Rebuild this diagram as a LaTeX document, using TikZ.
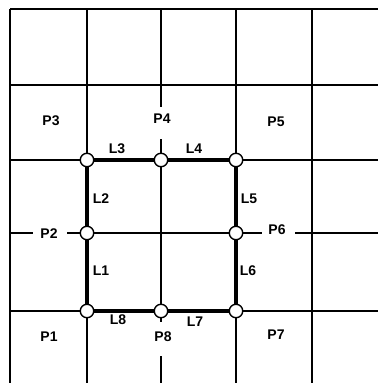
\documentclass[tikz,border=0pt]{standalone}
\usepackage{fontspec}
\setmainfont{Liberation Sans}
\pgfdeclarelayer{background}
\pgfsetlayers{background,main}
\tikzset{
  lbl/.style={inner sep=0pt, font=\fontsize{14}{14}\selectfont\bfseries},
  joint/.style={circle, draw, line width=1.4pt, fill=white, minimum size=13.5pt, inner sep=0pt},
  thin/.style={line width=1.5pt},
  heavy/.style={line width=3.2pt}
}
\begin{document}
\begin{tikzpicture}[x=1pt,y=-1pt]
\useasboundingbox (0,0) rectangle (378,383);
% joints
\node[joint] (c1) at (87,311) {};
\node[joint] (c2) at (87,233) {};
\node[joint] (c3) at (87,160) {};
\node[joint] (c4) at (161,160) {};
\node[joint] (c5) at (236,160) {};
\node[joint] (c6) at (236,233) {};
\node[joint] (c7) at (236,311) {};
\node[joint] (c8) at (161,311) {};
% labels
\node[lbl] (P3) at (51,121) {P3};
\node[lbl] (P4) at (162,119) {P4};
\node[lbl] (P5) at (276,122) {P5};
\node[lbl] (L3) at (117,149) {L3};
\node[lbl] (L4) at (194,149) {L4};
\node[lbl] (L2) at (101,199) {L2};
\node[lbl] (L5) at (249,199) {L5};
\node[lbl] (P2) at (49,234) {P2};
\node[lbl] (P6) at (277,230) {P6};
\node[lbl] (L1) at (101,271) {L1};
\node[lbl] (L6) at (248,271) {L6};
\node[lbl] (L8) at (118,320) {L8};
\node[lbl] (L7) at (195,322) {L7};
\node[lbl] (P1) at (49,337) {P1};
\node[lbl] (P8) at (163,337) {P8};
\node[lbl] (P7) at (276,335) {P7};
% free ends
\coordinate (tl) at (10,9);
\coordinate (tr) at (378,9);
\coordinate (bl) at (10,383);
\coordinate (h1l) at (10,85);   \coordinate (h1r) at (378,85);
\coordinate (h2l) at (10,160);  \coordinate (h2r) at (378,160);
\coordinate (h3l) at (10,233);  \coordinate (h3r) at (378,233);
\coordinate (h4l) at (10,311);  \coordinate (h4r) at (378,311);
\coordinate (p2w) at (33,233);  \coordinate (p2e) at (67,233);
\coordinate (p6w) at (262,233); \coordinate (p6e) at (295,233);
\coordinate (v1t) at (87,9);    \coordinate (v1b) at (87,383);
\coordinate (v2t) at (161,9);   \coordinate (v2m) at (161,107);
\coordinate (v2n) at (161,139); \coordinate (v2k) at (161,322);
\coordinate (v2s) at (161,356); \coordinate (v2b) at (161,383);
\coordinate (v3t) at (236,9);   \coordinate (v3b) at (236,383);
\coordinate (v4t) at (312,9);   \coordinate (v4b) at (312,383);
\begin{pgfonlayer}{background}
\draw[thin] (tl) -- (tr);
\draw[thin] (tl) -- (bl);
\draw[thin] (h1l) -- (h1r);
\draw[thin] (h2l) -- (h2r);
\draw[thin] (h4l) -- (h4r);
\draw[thin] (h3l) -- (p2w);
\draw[thin] (p2e) -- (c2);
\draw[thin] (c2) -- (c6);
\draw[thin] (c6) -- (p6w);
\draw[thin] (p6e) -- (h3r);
\draw[thin] (v1t) -- (v1b);
\draw[thin] (v2t) -- (v2m);
\draw[thin] (v2n) -- (c8);
\draw[thin] (c8) -- (v2k);
\draw[thin] (v2s) -- (v2b);
\draw[thin] (v3t) -- (v3b);
\draw[thin] (v4t) -- (v4b);
\draw[heavy] (c1.center) -- (c2.center) -- (c3.center) -- (c4.center) -- (c5.center) -- (c6.center) -- (c7.center) -- (c8.center) -- cycle;
\end{pgfonlayer}
\end{tikzpicture}
\end{document}
